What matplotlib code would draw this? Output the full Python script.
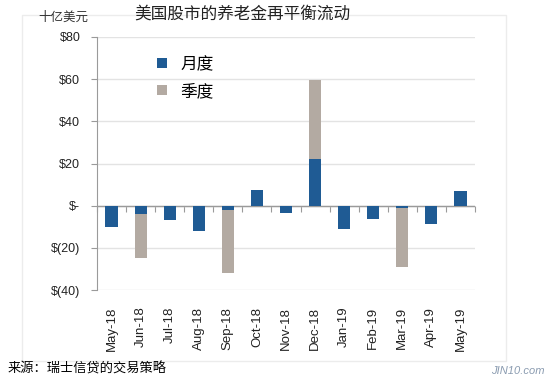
import matplotlib.pyplot as plt
import matplotlib.patches as patches
import numpy as np

# data (billion USD)
months = ["May-18", "Jun-18", "Jul-18", "Aug-18", "Sep-18", "Oct-18", "Nov-18",
          "Dec-18", "Jan-19", "Feb-19", "Mar-19", "Apr-19", "May-19"]
monthly = [-10, -4, -7, -12, -2, 7.5, -3.5, 22, -11, -6.5, -1, -8.5, 7]
quarterly = [0, -21, 0, 0, -30, 0, 0, 37.5, 0, 0, -28, 0, 0]
yticks = [-40, -20, 0, 20, 40, 60, 80]
ytick_labels = ["$(40)", "$(20)", "$-", "$20", "$40", "$60", "$80"]

blue = "#1F5B94"
grey = "#B3AAA2"
cjk = ["Noto Sans CJK SC", "DejaVu Sans"]
plt.rcParams["font.family"] = ["Liberation Sans", "DejaVu Sans"]

fig = plt.figure(figsize=(5.5, 3.79), dpi=100)
ax = fig.add_axes([97 / 550, 1 - 290 / 379, 378 / 550, 253 / 379])

x = np.arange(len(months))
ax.bar(x, monthly, width=0.42, color=blue, zorder=3, label="月度")
ax.bar(x, quarterly, width=0.42, bottom=monthly, color=grey, zorder=3, label="季度")

ax.set_xlim(-0.5, len(months) - 0.5)
ax.set_ylim(-40, 80)
ax.set_yticks(yticks)
ax.set_yticklabels(ytick_labels, fontsize=9, color="#222222")
ax.grid(axis="y", color="#e3e3e3", linewidth=1, zorder=0)
ax.axhline(0, color="#9a9a9a", linewidth=1, zorder=2)

for s in ["top", "right", "bottom"]:
    ax.spines[s].set_visible(False)
ax.spines["left"].set_color("#9a9a9a")
ax.tick_params(axis="y", length=4, color="#9a9a9a", pad=8)

ax.set_xticks(x)
ax.set_xticklabels(months, rotation=90, fontsize=9.5, color="#222222")
ax.tick_params(axis="x", length=0, pad=12)

# boundary ticks on the zero line
sec = ax.secondary_xaxis(1 / 3)
sec.set_xticks(np.arange(len(months) + 1) - 0.5)
sec.set_xticklabels([])
sec.tick_params(length=4, color="#9a9a9a")
sec.spines["bottom"].set_visible(False)

leg = ax.legend(loc="upper left", bbox_to_anchor=(0.12, 0.985), frameon=False,
                prop={"family": cjk, "size": 12}, handlelength=0.6, handleheight=0.6,
                handletextpad=0.8, labelspacing=0.6)

fig.text(0.115, 0.955, "十亿美元", family=cjk, fontsize=9, ha="center", va="center", color="#333333")
fig.text(0.44, 0.963, "美国股市的养老金再平衡流动", family=cjk, fontsize=12, ha="center",
         va="center", color="#222222")
fig.text(0.014, 0.028, "来源：瑞士信贷的交易策略", family=cjk, fontsize=9.5, ha="left", va="center")
fig.text(0.99, 0.022, "JIN10.com", fontsize=8, style="italic", color="#8a9bb0",
         ha="right", va="center")

fig.patches.append(patches.Rectangle((22 / 550, 1 - 361 / 379), 484 / 550, 346 / 379,
                                     transform=fig.transFigure, fill=False,
                                     edgecolor="#ececec", linewidth=1))

fig.savefig("out.png", dpi=100)
